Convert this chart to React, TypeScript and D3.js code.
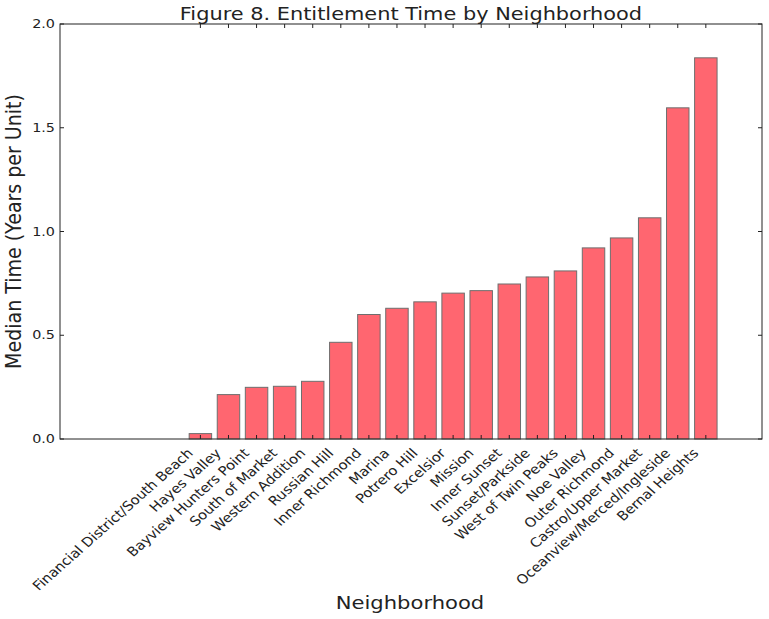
import React from "react";
import * as d3 from "d3";

const categories = [
  "Financial District/South Beach",
  "Hayes Valley",
  "Bayview Hunters Point",
  "South of Market",
  "Western Addition",
  "Russian Hill",
  "Inner Richmond",
  "Marina",
  "Potrero Hill",
  "Excelsior",
  "Mission",
  "Inner Sunset",
  "Sunset/Parkside",
  "West of Twin Peaks",
  "Noe Valley",
  "Outer Richmond",
  "Castro/Upper Market",
  "Oceanview/Merced/Ingleside",
  "Bernal Heights",
];
const values = [
  0.026, 0.214, 0.249, 0.254, 0.278, 0.466, 0.6, 0.63, 0.661, 0.703, 0.715,
  0.747, 0.781, 0.81, 0.921, 0.969, 1.066, 1.596, 1.837,
];
const yTicks = [0, 0.5, 1.0, 1.5, 2.0];
const xDomain = [-5, 20];

const W = 769;
const H = 619;
const left = 60;
const right = 762;
const top = 24;
const bottom = 439;
const SX = 1.16;
const SXL = 1.13;
const font = "DejaVu Sans, sans-serif";

export default function App() {
  const x = d3.scaleLinear().domain(xDomain).range([left, right]);
  const y = d3.scaleLinear().domain([0, 2]).range([bottom, top]);
  const bw = (x(1) - x(0)) * 0.8;
  return (
    <svg
      width={W}
      height={H}
      style={{ position: "absolute", left: 0, top: 0, background: "#fff" }}
      fontFamily={font}
    >
      {categories.map((c, i) => (
        <rect
          key={c}
          x={x(i) - bw / 2}
          y={y(values[i])}
          width={bw}
          height={y(0) - y(values[i])}
          fill="#ff6670"
          stroke="#6e6e6e"
          strokeWidth={1}
        />
      ))}
      {categories.map((c, i) => (
        <g key={"t" + c}>
          <line x1={x(i)} x2={x(i)} y1={bottom} y2={bottom - 4} stroke="#222" />
          <line x1={x(i)} x2={x(i)} y1={top} y2={top + 4} stroke="#222" />
          <text
            transform={`translate(${x(i) - 6.5},${bottom + 15}) scale(${SXL},1) rotate(-45)`}
            textAnchor="end"
            fontSize={13}
            fill="#222"
          >
            {c}
          </text>
        </g>
      ))}
      {yTicks.map((t) => (
        <g key={"y" + t}>
          <line x1={left} x2={left + 4} y1={y(t)} y2={y(t)} stroke="#222" />
          <line x1={right} x2={right - 4} y1={y(t)} y2={y(t)} stroke="#222" />
          <text
            transform={`translate(${left - 5},${y(t)}) scale(${SX},1)`}
            textAnchor="end"
            dominantBaseline="central"
            fontSize={12.4}
            fill="#222"
          >
            {t.toFixed(1)}
          </text>
        </g>
      ))}
      <rect
        x={left}
        y={top}
        width={right - left}
        height={bottom - top}
        fill="none"
        stroke="#222"
        strokeWidth={1}
      />
      <text
        transform={`translate(411,20) scale(${SX},1)`}
        textAnchor="middle"
        fontSize={18}
        fill="#222"
      >
        Figure 8. Entitlement Time by Neighborhood
      </text>
      <text
        transform={`translate(410,609) scale(${SX},1)`}
        textAnchor="middle"
        fontSize={18.2}
        fill="#222"
      >
        Neighborhood
      </text>
      <text
        transform={`translate(21,${(top + bottom) / 2}) scale(${SX},1) rotate(-90)`}
        textAnchor="middle"
        fontSize={19}
        fill="#222"
      >
        Median Time (Years per Unit)
      </text>
    </svg>
  );
}
